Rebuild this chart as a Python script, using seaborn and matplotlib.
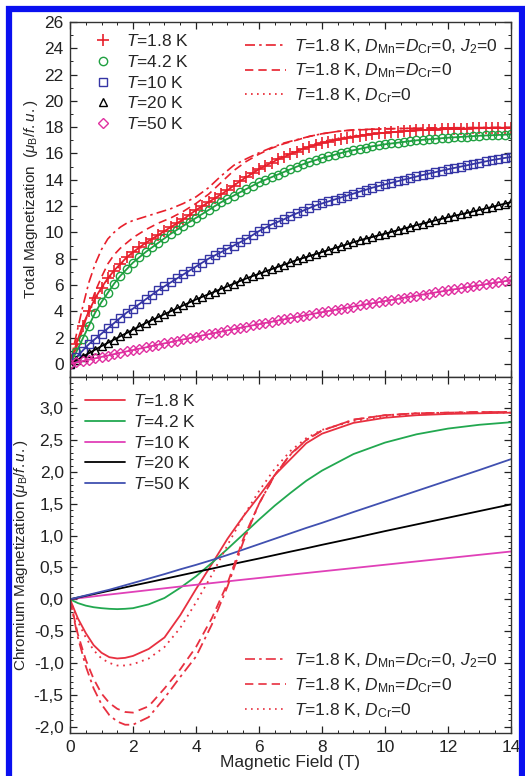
import matplotlib
matplotlib.use("Agg")
import matplotlib.pyplot as plt
import seaborn as sns
from matplotlib.lines import Line2D
from matplotlib.patches import Rectangle
from matplotlib.ticker import MultipleLocator, FuncFormatter

# ---------------- data ----------------
# top panel: measured total magnetization, field grid 0 .. 14 T in 0.2 T steps
field_top = [round(0.2 * i, 1) for i in range(71)]

m_1p8 = [0, 1.5, 2.9, 4.0, 5.0, 5.8, 6.5, 7.1, 7.6, 8.1,
         8.5, 8.85, 9.2, 9.5, 9.8, 10.1, 10.4, 10.7, 11.0, 11.35,
         11.7, 12.0, 12.3, 12.6, 12.9, 13.2, 13.55, 13.9, 14.2, 14.5,
         14.8, 15.05, 15.3, 15.55, 15.75, 15.95, 16.15, 16.35, 16.5, 16.65,
         16.8, 16.9, 17.0, 17.1, 17.2, 17.28, 17.35, 17.42, 17.48, 17.53,
         17.57, 17.61, 17.65, 17.69, 17.72, 17.75, 17.78, 17.8, 17.82, 17.84,
         17.86, 17.87, 17.88, 17.9, 17.91, 17.92, 17.93, 17.94, 17.95, 17.96,
         17.97]
m_4p2 = [0, 0.9, 1.9, 2.9, 3.9, 4.7, 5.4, 6.1, 6.7, 7.2,
         7.7, 8.1, 8.5, 8.85, 9.2, 9.55, 9.9, 10.2, 10.5, 10.8,
         11.1, 11.4, 11.7, 12.0, 12.3, 12.55, 12.8, 13.05, 13.3, 13.55,
         13.8, 14.0, 14.2, 14.4, 14.6, 14.8, 15.0, 15.18, 15.35, 15.5,
         15.65, 15.78, 15.9, 16.03, 16.15, 16.25, 16.35, 16.45, 16.55, 16.62,
         16.7, 16.76, 16.82, 16.88, 16.94, 17.0, 17.04, 17.08, 17.12, 17.16,
         17.2, 17.23, 17.26, 17.29, 17.32, 17.35, 17.37, 17.39, 17.41, 17.43,
         17.45]
m_10 = [0, 0.5, 1.0, 1.5, 1.9, 2.3, 2.7, 3.1, 3.5, 3.9,
        4.2, 4.55, 4.9, 5.25, 5.6, 5.9, 6.2, 6.5, 6.8, 7.1,
        7.4, 7.7, 8.0, 8.25, 8.5, 8.75, 9.0, 9.25, 9.5, 9.8,
        10.1, 10.35, 10.6, 10.8, 11.0, 11.25, 11.45, 11.65, 11.85, 12.05,
        12.2, 12.35, 12.5, 12.65, 12.8, 12.95, 13.1, 13.25, 13.4, 13.52,
        13.65, 13.77, 13.89, 14.01, 14.13, 14.25, 14.36, 14.47, 14.58, 14.69,
        14.8, 14.9, 15.0, 15.1, 15.2, 15.3, 15.4, 15.5, 15.58, 15.66,
        15.74]
m_20 = [0, 0.27, 0.54, 0.81, 1.08, 1.35, 1.6, 1.85, 2.1, 2.35,
        2.6, 2.85, 3.1, 3.33, 3.55, 3.78, 4.0, 4.23, 4.45, 4.68,
        4.9, 5.1, 5.3, 5.5, 5.7, 5.9, 6.1, 6.3, 6.5, 6.68,
        6.85, 7.03, 7.2, 7.38, 7.55, 7.72, 7.9, 8.05, 8.2, 8.35,
        8.5, 8.65, 8.8, 8.95, 9.1, 9.25, 9.4, 9.53, 9.65, 9.78,
        9.9, 10.03, 10.16, 10.29, 10.42, 10.55, 10.67, 10.79, 10.91, 11.03,
        11.15, 11.26, 11.37, 11.48, 11.59, 11.7, 11.82, 11.94, 12.06, 12.18,
        12.3]
m_50 = [0, 0.11, 0.21, 0.32, 0.42, 0.53, 0.63, 0.74, 0.84, 0.95,
        1.05, 1.15, 1.25, 1.36, 1.46, 1.56, 1.66, 1.76, 1.86, 1.96,
        2.06, 2.16, 2.26, 2.35, 2.45, 2.55, 2.64, 2.74, 2.83, 2.93,
        3.02, 3.11, 3.2, 3.3, 3.39, 3.48, 3.57, 3.66, 3.75, 3.84,
        3.93, 4.02, 4.1, 4.19, 4.27, 4.36, 4.44, 4.53, 4.61, 4.7,
        4.78, 4.86, 4.94, 5.03, 5.11, 5.19, 5.27, 5.35, 5.43, 5.51,
        5.59, 5.67, 5.75, 5.83, 5.91, 5.98, 6.06, 6.14, 6.21, 6.29,
        6.36]

# top panel: model curves at T = 1.8 K
field_model = [0, 0.2, 0.4, 0.6, 0.8, 1.0, 1.2, 1.4, 1.6, 1.8, 2.0, 2.4, 2.8, 3.2,
               3.6, 4.0, 4.4, 4.8, 5.2, 5.6, 6.0, 6.4, 6.8, 7.2, 7.6, 8.0, 8.5,
               9, 10, 11, 12, 13, 14]
tot_d0_j0 = [0, 2.2, 4.3, 6.2, 7.6, 8.7, 9.5, 10.0, 10.4, 10.7, 10.9, 11.2, 11.5, 11.8,
             12.2, 12.7, 13.4, 14.3, 15.1, 15.6, 16.05, 16.45, 16.8, 17.05, 17.3, 17.5, 17.68,
             17.8, 17.88, 17.92, 17.95, 17.97, 17.98]
tot_d0 = [0, 1.2, 2.6, 4.1, 5.5, 6.6, 7.6, 8.3, 8.8, 9.2, 9.6, 10.2, 10.7, 11.1,
          11.6, 12.2, 12.9, 13.8, 14.7, 15.4, 15.95, 16.4, 16.75, 17.02, 17.3, 17.5, 17.68,
          17.78, 17.87, 17.92, 17.95, 17.97, 17.98]
tot_dcr0 = [0, 1.4, 2.8, 3.9, 4.9, 5.7, 6.4, 7.0, 7.5, 8.0, 8.4, 9.1, 9.7, 10.3,
            10.9, 11.6, 12.2, 12.9, 13.6, 14.3, 14.9, 15.4, 15.85, 16.25, 16.6, 16.9, 17.15,
            17.35, 17.6, 17.77, 17.87, 17.93, 17.97]

# bottom panel: chromium magnetization
field_bot = [0, 0.25, 0.5, 0.75, 1, 1.25, 1.5, 1.75, 2, 2.5, 3, 3.5, 4, 4.5, 5, 5.5,
             6, 6.5, 7, 7.5, 8, 9, 10, 11, 12, 13, 14]
cr_1p8 = [0, -0.3, -0.53, -0.72, -0.84, -0.91, -0.93, -0.92, -0.89, -0.78, -0.6, -0.25,
          0.16, 0.55, 0.95, 1.3, 1.62, 1.95, 2.2, 2.45, 2.6, 2.77, 2.85, 2.89, 2.91, 2.92, 2.93]
cr_4p2 = [0, -0.06, -0.1, -0.125, -0.14, -0.15, -0.155, -0.15, -0.14, -0.08, 0.02, 0.18,
          0.36, 0.57, 0.79, 1.02, 1.25, 1.47, 1.67, 1.86, 2.02, 2.28, 2.46, 2.59, 2.68, 2.74, 2.78]
cr_10 = [0, 0.015, 0.03, 0.045, 0.06, 0.074, 0.088, 0.102, 0.116, 0.144, 0.172, 0.2,
         0.227, 0.254, 0.281, 0.308, 0.334, 0.36, 0.386, 0.412, 0.438, 0.49, 0.542, 0.594,
         0.646, 0.698, 0.75]
cr_20 = [0, 0.027, 0.054, 0.08, 0.107, 0.134, 0.16, 0.187, 0.214, 0.267, 0.32, 0.374,
         0.428, 0.48, 0.535, 0.588, 0.64, 0.694, 0.748, 0.8, 0.855, 0.96, 1.07, 1.175,
         1.28, 1.385, 1.49]
cr_50 = [0, 0.03, 0.06, 0.09, 0.12, 0.15, 0.185, 0.22, 0.255, 0.325, 0.395, 0.47,
         0.54, 0.615, 0.695, 0.78, 0.865, 0.95, 1.035, 1.12, 1.2, 1.37, 1.535, 1.7,
         1.865, 2.03, 2.2]
cr_d0_j0 = [0, -0.6, -1.05, -1.4, -1.65, -1.82, -1.92, -1.97, -1.97, -1.85, -1.55, -1.22,
            -0.9, -0.4, 0.2, 0.9, 1.5, 1.95, 2.27, 2.5, 2.65, 2.82, 2.89, 2.92, 2.93, 2.94, 2.94]
cr_d0 = [0, -0.55, -0.95, -1.25, -1.48, -1.63, -1.72, -1.77, -1.78, -1.68, -1.4, -1.1,
         -0.75, -0.3, 0.25, 0.95, 1.5, 1.95, 2.28, 2.5, 2.65, 2.82, 2.89, 2.92, 2.93, 2.94, 2.94]
cr_dcr0 = [0, -0.35, -0.6, -0.8, -0.93, -1.0, -1.04, -1.04, -1.02, -0.93, -0.75, -0.45,
           -0.05, 0.38, 0.85, 1.3, 1.7, 2.05, 2.33, 2.53, 2.66, 2.8, 2.87, 2.9, 2.92, 2.93, 2.93]

temp_labels = ["$T$=1.8 K", "$T$=4.2 K", "$T$=10 K", "$T$=20 K", "$T$=50 K"]
model_labels = ["$T$=1.8 K, $D_{\\rm Mn}$=$D_{\\rm Cr}$=0, $J_2$=0",
                "$T$=1.8 K, $D_{\\rm Mn}$=$D_{\\rm Cr}$=0",
                "$T$=1.8 K, $D_{\\rm Cr}$=0"]

# ---------------- style ----------------
sns.set_style("ticks")
plt.rcParams["font.family"] = ["Liberation Sans", "DejaVu Sans"]
plt.rcParams["mathtext.fontset"] = "custom"
plt.rcParams["mathtext.rm"] = "Liberation Sans"
plt.rcParams["mathtext.it"] = "Liberation Sans:italic"
plt.rcParams["mathtext.bf"] = "Liberation Sans:bold"

RED = "#e8202c"
GREEN = "#1fa040"
BLUE_M = "#3535a5"
MAG = "#e030a0"
RED_L = "#e83040"
GREEN_L = "#22a850"
MAG_L = "#e040b8"
BLUE_L = "#4050b0"
DASHDOT = (0, (6, 2.5, 1.5, 2.5))
DASHED = (0, (5, 3))
DOTTED = (0, (1, 2.6))
FS = 12.5     # tick labels / legends
FS_LAB = 11   # axis labels

fig = plt.figure(figsize=(5.25, 7.76), dpi=100)
ax1 = fig.add_axes([70 / 525, 1 - 377 / 776, 441 / 525, 355 / 776])
ax2 = fig.add_axes([70 / 525, 1 - 733 / 776, 441 / 525, 356 / 776])

# ---------------- top panel ----------------
for y, ls in [(tot_d0_j0, DASHDOT), (tot_d0, DASHED), (tot_dcr0, DOTTED)]:
    sns.lineplot(x=field_model, y=y, ax=ax1, color=RED, lw=1.2, linestyle=ls,
                 estimator=None, sort=False, legend=False)

series = [(m_1p8, RED, "+", 8, 1.2), (m_4p2, GREEN, "o", 6, 1.0),
          (m_10, BLUE_M, "s", 5.5, 1.0), (m_20, "black", "^", 6, 1.0),
          (m_50, MAG, "D", 5.5, 1.0)]
for y, c, mk, ms, mew in series:
    sns.lineplot(x=field_top, y=y, ax=ax1, color=c, lw=1.3, marker=mk, markersize=ms,
                 markerfacecolor="none", markeredgecolor=c, markeredgewidth=mew,
                 estimator=None, sort=False, legend=False)

ax1.set_xlim(0, 14)
ax1.set_ylim(-1, 26)
ax1.yaxis.set_major_locator(MultipleLocator(2))
ax1.yaxis.set_minor_locator(MultipleLocator(1))
ax1.set_ylabel("Total Magnetization  ($\\mu_{\\rm B}$/$f.u.$)", fontsize=FS_LAB, labelpad=3)
ax1.set_xlabel("")

h1 = [Line2D([], [], ls="none", marker=mk, ms=ms, mfc="none", mec=c, mew=mew)
      for _, c, mk, ms, mew in series]
leg1 = ax1.legend(h1, temp_labels, loc="upper left", bbox_to_anchor=(0.055, 0.968),
                  frameon=False, fontsize=FS, handlelength=1.0, handletextpad=0.85,
                  labelspacing=0.27, borderaxespad=0, borderpad=0)
ax1.add_artist(leg1)
h2 = [Line2D([], [], color=RED, lw=1.2, ls=ls) for ls in (DASHDOT, DASHED, DOTTED)]
ax1.legend(h2, model_labels, loc="upper right", bbox_to_anchor=(0.968, 0.958),
           frameon=False, fontsize=FS, handlelength=2.35, handletextpad=0.46,
           labelspacing=0.35, borderaxespad=0, borderpad=0)

# ---------------- bottom panel ----------------
for y, c in [(cr_1p8, RED_L), (cr_4p2, GREEN_L), (cr_10, MAG_L), (cr_20, "black"),
             (cr_50, BLUE_L)]:
    sns.lineplot(x=field_bot, y=y, ax=ax2, color=c, lw=1.3,
                 estimator=None, sort=False, legend=False)
for y, ls in [(cr_d0_j0, DASHDOT), (cr_d0, DASHED), (cr_dcr0, DOTTED)]:
    sns.lineplot(x=field_bot, y=y, ax=ax2, color=RED_L, lw=1.3, linestyle=ls,
                 estimator=None, sort=False, legend=False)

ax2.set_xlim(0, 14)
ax2.set_ylim(-2.1, 3.49)
ax2.yaxis.set_major_locator(MultipleLocator(0.5))
ax2.yaxis.set_minor_locator(MultipleLocator(0.1))
ax2.yaxis.set_major_formatter(FuncFormatter(lambda v, p: f"{v:.1f}".replace(".", ",")))
ax2.set_xlabel("Magnetic Field (T)", fontsize=FS, labelpad=0)
ax2.set_ylabel("Chromium Magnetization ($\\mu_{\\rm B}$/$f.u.$)", fontsize=FS_LAB, labelpad=3)

h3 = [Line2D([], [], color=c, lw=1.3) for c in (RED_L, GREEN_L, MAG_L, "black", BLUE_L)]
leg3 = ax2.legend(h3, temp_labels, loc="upper left", bbox_to_anchor=(0.034, 0.954),
                  frameon=False, fontsize=FS, handlelength=2.3, handletextpad=0.46,
                  labelspacing=0.27, borderaxespad=0, borderpad=0)
ax2.add_artist(leg3)
h4 = [Line2D([], [], color=RED_L, lw=1.2, ls=ls) for ls in (DASHDOT, DASHED, DOTTED)]
ax2.legend(h4, model_labels, loc="lower right", bbox_to_anchor=(0.968, 0.037),
           frameon=False, fontsize=FS, handlelength=2.35, handletextpad=0.46,
           labelspacing=0.35, borderaxespad=0, borderpad=0)

for ax in (ax1, ax2):
    ax.xaxis.set_major_locator(MultipleLocator(2))
    ax.xaxis.set_minor_locator(MultipleLocator(0.5))
    ax.tick_params(which="both", direction="in", top=True, right=True,
                   labelsize=FS, colors="#222222")
    ax.tick_params(which="major", length=5, width=0.9)
    ax.tick_params(which="minor", length=2.5, width=0.7)
    ax.tick_params(axis="y", pad=4.5)
    ax.tick_params(axis="x", pad=5)
    for s in ax.spines.values():
        s.set_visible(True)
        s.set_linewidth(1.0)
        s.set_color("#333333")
ax1.tick_params(labelbottom=False)

fig.align_ylabels([ax1, ax2])

# blue frame around the whole picture
fig.patches.append(Rectangle((8.5 / 525, -0.01), (521.5 - 8.5) / 525, 1.01 - 9 / 776,
                             transform=fig.transFigure, fill=False,
                             edgecolor="#0a10f0", lw=4.5))

fig.savefig("out.png", dpi=100)
